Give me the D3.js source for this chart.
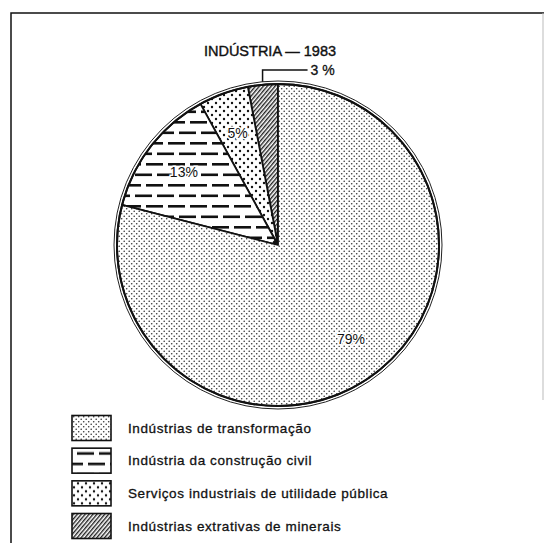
<!DOCTYPE html>
<html>
<head>
<meta charset="utf-8">
<script src="https://cdn.jsdelivr.net/npm/d3@7"></script>
<style>
  body { margin: 0; background: #fff; }
  svg { display: block; }
  text { font-family: "Liberation Sans", Arial, sans-serif; fill: #111; }
</style>
</head>
<body>
<div id="chart"></div>
<script>
// data, in drawing order (counter-clockwise from 12 o'clock)
var categories = ['Indústrias extrativas de minerais', 'Serviços industriais de utilidade pública',
                  'Indústria da construção civil', 'Indústrias de transformação'];
var values = [3, 5, 13, 79];
var valueLabels = ['3 %', '5%', '13%', '79%'];
var patterns = ['pat-extr', 'pat-serv', 'pat-constr', 'pat-transf'];
var legendOrder = ['Indústrias de transformação', 'Indústria da construção civil',
                   'Serviços industriais de utilidade pública', 'Indústrias extrativas de minerais'];
var title = 'INDÚSTRIA — 1983';

var width = 546,
    height = 543,
    cx = 278,
    cy = 245,
    radius = 161;

var svg = d3.select('#chart').append('svg')
    .attr('width', width)
    .attr('height', height);

// fill patterns
var defs = svg.append('defs');

var p = defs.append('pattern').attr('id', 'pat-transf')
    .attr('patternUnits', 'userSpaceOnUse').attr('width', 5).attr('height', 5);
p.append('rect').attr('width', 5).attr('height', 5).attr('fill', '#fff');
p.append('circle').attr('cx', 1.2).attr('cy', 1.2).attr('r', 0.8).attr('fill', '#333');
p.append('circle').attr('cx', 3.7).attr('cy', 3.7).attr('r', 0.8).attr('fill', '#333');

p = defs.append('pattern').attr('id', 'pat-serv')
    .attr('patternUnits', 'userSpaceOnUse').attr('width', 8).attr('height', 8);
p.append('rect').attr('width', 8).attr('height', 8).attr('fill', '#fff');
p.append('circle').attr('cx', 2).attr('cy', 2).attr('r', 1.2).attr('fill', '#111');
p.append('circle').attr('cx', 6).attr('cy', 6).attr('r', 1.2).attr('fill', '#111');

p = defs.append('pattern').attr('id', 'pat-constr')
    .attr('patternUnits', 'userSpaceOnUse').attr('width', 22).attr('height', 21);
p.append('rect').attr('width', 22).attr('height', 21).attr('fill', '#fff');
p.append('rect').attr('x', 0).attr('y', 2).attr('width', 17).attr('height', 2.6).attr('fill', '#111');
p.append('rect').attr('x', 11).attr('y', 12.5).attr('width', 17).attr('height', 2.6).attr('fill', '#111');
p.append('rect').attr('x', -11).attr('y', 12.5).attr('width', 17).attr('height', 2.6).attr('fill', '#111');

p = defs.append('pattern').attr('id', 'pat-extr')
    .attr('patternUnits', 'userSpaceOnUse').attr('width', 3).attr('height', 3)
    .attr('patternTransform', 'rotate(40)');
p.append('rect').attr('width', 3).attr('height', 3).attr('fill', '#fff');
p.append('rect').attr('x', 0).attr('y', 0).attr('width', 1.4).attr('height', 3).attr('fill', '#222');

// frame
svg.append('path')
    .attr('d', 'M11,' + height + 'V13H544')
    .attr('fill', 'none')
    .attr('stroke', '#111')
    .attr('stroke-width', 1.5);
svg.append('line')
    .attr('x1', 543).attr('x2', 543).attr('y1', 13).attr('y2', 400)
    .attr('stroke', '#bbb')
    .attr('stroke-width', 1);

// title
svg.append('text')
    .attr('x', 270)
    .attr('y', 56)
    .attr('text-anchor', 'middle')
    .attr('font-size', 14.5)
    .attr('stroke', '#111')
    .attr('stroke-width', 0.4)
    .text(title);

var pie = d3.pie()
    .sort(null)
    .startAngle(0)
    .endAngle(-2 * Math.PI);

var arcs = pie(values);

var arc = d3.arc()
    .innerRadius(0)
    .outerRadius(radius);

var labelArc = d3.arc()
    .innerRadius(radius * 0.74)
    .outerRadius(radius * 0.74);

var g = svg.append('g')
    .attr('transform', 'translate(' + cx + ',' + cy + ')');

g.selectAll('path.slice')
    .data(arcs)
    .enter().append('path')
    .attr('class', 'slice')
    .attr('d', arc)
    .attr('fill', function(d, i) { return 'url(#' + patterns[i] + ')'; })
    .attr('stroke', '#111')
    .attr('stroke-width', 1.8)
    .attr('stroke-linejoin', 'round');

// double outline
g.append('circle').attr('r', radius).attr('fill', 'none').attr('stroke', '#111').attr('stroke-width', 2);
g.append('circle').attr('r', radius + 3).attr('fill', 'none').attr('stroke', '#222').attr('stroke-width', 1);

// small dark hub where the thin slices meet
g.append('path')
    .attr('d', d3.arc().innerRadius(0).outerRadius(6)({startAngle: arcs[2].endAngle, endAngle: 0}))
    .attr('fill', '#111');

// labels inside the slices (all but the smallest)
g.selectAll('text.inner')
    .data(arcs.slice(1))
    .enter().append('text')
    .attr('class', 'inner')
    .attr('transform', function(d) { return 'translate(' + labelArc.centroid(d) + ')'; })
    .attr('text-anchor', 'middle')
    .attr('dy', '0.35em')
    .attr('font-size', 14)
    .attr('paint-order', 'stroke')
    .attr('stroke', '#fff')
    .attr('stroke-width', 3)
    .text(function(d) { return valueLabels[d.index]; });

// leader for the smallest slice
var small = arcs[0],
    mid = (small.startAngle + small.endAngle) / 2,
    lx = Math.sin(mid) * (radius + 3),
    ly = -Math.cos(mid) * (radius + 3),
    topY = -radius - 14;

g.append('path')
    .attr('d', 'M' + lx + ',' + ly + 'V' + topY + 'H' + (lx + 45))
    .attr('fill', 'none')
    .attr('stroke', '#111')
    .attr('stroke-width', 1.5);

g.append('text')
    .attr('x', lx + 48)
    .attr('y', topY)
    .attr('dy', '0.35em')
    .attr('font-size', 14)
    .attr('stroke', '#111')
    .attr('stroke-width', 0.3)
    .text(valueLabels[0]);

// legend
var legendY = d3.scalePoint()
    .domain(legendOrder)
    .range([428, 526]);

var legend = svg.selectAll('g.legend')
    .data(legendOrder)
    .enter().append('g')
    .attr('class', 'legend')
    .attr('transform', function(d) { return 'translate(0,' + legendY(d) + ')'; });

legend.append('rect')
    .attr('x', 72)
    .attr('y', -12.5)
    .attr('width', 39)
    .attr('height', 25)
    .attr('fill', function(d) { return 'url(#' + patterns[categories.indexOf(d)] + ')'; })
    .attr('stroke', '#111')
    .attr('stroke-width', 1.6);

legend.append('text')
    .attr('x', 128)
    .attr('dy', '0.35em')
    .attr('font-size', 13.5)
    .attr('letter-spacing', 0.6)
    .attr('stroke', '#111')
    .attr('stroke-width', 0.3)
    .text(function(d) { return d; });
</script>
</body>
</html>
